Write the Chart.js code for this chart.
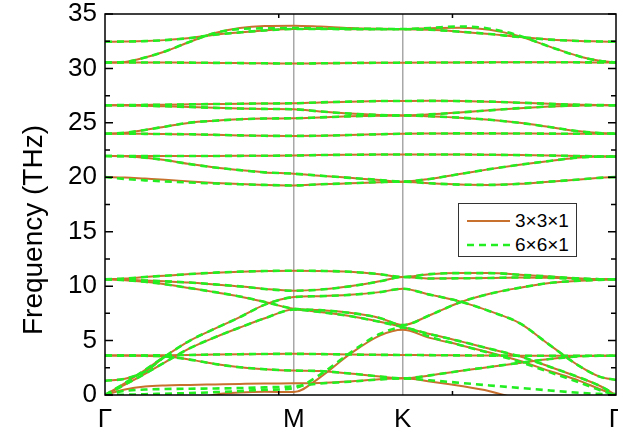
<!DOCTYPE html>
<html>
<head>
<meta charset="utf-8">
<script src="https://cdn.jsdelivr.net/npm/chart.js@4.4.1/dist/chart.umd.min.js"></script>
<style>
  html, body { margin: 0; padding: 0; background: #fff; }
  #wrap { position: relative; width: 618px; height: 441px; overflow: hidden; }
  #legend { position: absolute; left: 458px; top: 203px; width: 119px; height: 54px; border: 1px solid #333;
            background: #fff; box-sizing: border-box; font-family: Arial, "Liberation Sans", sans-serif; font-size: 19px; color: #000; }
  #legend .row { position: absolute; left: 8px; height: 24px; display: flex; align-items: center; }
  #legend svg { margin-right: 5px; }
  #ytitle { position: absolute; left: -97px; top: 213px; width: 260px; height: 34px; line-height: 34px; text-align: center;
            font-family: Arial, "Liberation Sans", sans-serif; font-size: 28px; color: #000; transform: rotate(-90deg); }
</style>
</head>
<body>
<div id="wrap">
  <canvas id="bands" width="618" height="441"></canvas>
  <div id="ytitle">Frequency (THz)</div>
  <div id="legend">
    <div class="row" style="top:5px">
      <svg width="43" height="6"><line x1="0" y1="3" x2="43" y2="3" stroke="#C8702E" stroke-width="2"/></svg>3×3×1
    </div>
    <div class="row" style="top:29px">
      <svg width="43" height="6"><line x1="0" y1="3" x2="43" y2="3" stroke="#22EE22" stroke-width="2.6" stroke-dasharray="7 5"/></svg>6×6×1
    </div>
  </div>
</div>
<script>
// path Γ-M-K-Γ, normalised distance along the path
const kDist = [0, 0.0391, 0.0782, 0.1173, 0.1662, 0.2151, 0.2639, 0.3128, 0.3695,
               0.4203, 0.4790, 0.5376, 0.5826,
               0.6354, 0.6940, 0.7527, 0.8113, 0.8700, 0.9286, 0.9677, 1.0];
const kTicks = [0, 0.3695, 0.5826, 1.0];
const kLabels = ['Γ', 'M', 'K', 'Γ'];
const xMinorTicks = [0.34, 0.68];
const yMajor = [0, 5, 10, 15, 20, 25, 30, 35];
const yMinor = [2.5, 7.5, 12.5, 17.5, 22.5, 27.5, 32.5];

// 3x3x1 bands (THz)      Γ ........................................... M | M ............ K | K ................................................ Γ
const h1 = [32.45, 32.47, 32.51, 32.6, 32.79, 33.1, 33.31, 33.49, 33.62, 33.62, 33.61, 33.6, 33.6, 33.55, 33.38, 33.16, 32.88, 32.65, 32.52, 32.48, 32.45];
const h2 = [30.55, 30.6, 31.0, 31.56, 32.45, 33.25, 33.71, 33.9, 33.93, 33.85, 33.72, 33.65, 33.62, 33.7, 33.74, 33.55, 32.95, 32.0, 31.1, 30.7, 30.55];
const h3 = [30.55, 30.55, 30.55, 30.54, 30.53, 30.51, 30.49, 30.47, 30.45, 30.47, 30.5, 30.52, 30.53, 30.54, 30.55, 30.56, 30.57, 30.57, 30.56, 30.55, 30.55];
const m1 = [26.62, 26.63, 26.65, 26.67, 26.7, 26.73, 26.76, 26.78, 26.8, 26.88, 26.95, 27.0, 27.01, 27.02, 27.0, 26.95, 26.85, 26.75, 26.66, 26.63, 26.62];
const m2 = [26.62, 26.6, 26.57, 26.52, 26.45, 26.38, 26.32, 26.28, 26.25, 26.05, 25.85, 25.72, 25.68, 25.78, 25.95, 26.15, 26.35, 26.5, 26.6, 26.62, 26.62];
const m3 = [24.0, 24.1, 24.35, 24.65, 25.02, 25.2, 25.33, 25.4, 25.42, 25.5, 25.6, 25.66, 25.68, 25.6, 25.48, 25.28, 25.0, 24.62, 24.22, 24.06, 24.0];
const m4 = [24.0, 24.0, 23.99, 23.97, 23.95, 23.9, 23.85, 23.81, 23.8, 23.82, 23.88, 23.95, 24.0, 24.02, 24.03, 24.03, 24.02, 24.01, 24.0, 24.0, 24.0];
const l1 = [21.95, 21.95, 21.95, 21.95, 21.95, 21.96, 21.97, 21.98, 22.0, 22.04, 22.07, 22.09, 22.1, 22.1, 22.09, 22.07, 22.04, 22.0, 21.95, 21.92, 21.9];
const l2 = [21.95, 21.93, 21.8, 21.58, 21.21, 20.9, 20.66, 20.45, 20.33, 20.15, 19.95, 19.75, 19.6, 19.85, 20.3, 20.75, 21.15, 21.5, 21.82, 21.9, 21.9];
const l3 = [20.02, 19.98, 19.88, 19.78, 19.62, 19.48, 19.38, 19.3, 19.25, 19.35, 19.45, 19.55, 19.6, 19.45, 19.33, 19.3, 19.4, 19.6, 19.8, 19.95, 20.02];
const t1 = [10.63, 10.7, 10.84, 10.96, 11.11, 11.24, 11.33, 11.39, 11.42, 11.4, 11.32, 11.1, 10.84, 11.1, 11.2, 11.2, 11.05, 10.88, 10.7, 10.64, 10.63];
const t2 = [10.63, 10.6, 10.52, 10.44, 10.33, 10.16, 9.98, 9.74, 9.58, 9.68, 9.98, 10.44, 10.84, 10.7, 10.72, 10.75, 10.8, 10.76, 10.68, 10.64, 10.63];
const t3 = [10.63, 10.55, 10.4, 10.18, 9.82, 9.45, 9.05, 8.55, 7.92, 7.8, 7.55, 7.08, 6.42, 7.33, 8.5, 9.3, 9.85, 10.29, 10.5, 10.58, 10.63];
const la = [0, 1.1, 2.3, 3.55, 5.0, 6.1, 7.15, 8.3, 9.0, 9.08, 9.2, 9.45, 9.76, 9.22, 8.6, 7.7, 6.6, 4.6, 2.65, 1.69, 1.38];
// optical branch at 1.3 THz that runs into the LA branch
const o1 = [1.3, 1.5, 2.15, 3.55, null, null, null, null, null, null, null, null, null, null, null, null, null, null, null, null, null];
const ta = [0, 0.95, 1.95, 3.0, 4.3, 5.3, 6.2, 7.05, 7.85, 7.62, 7.25, 6.72, 6.25, 5.6, 4.95, 4.25, 3.55, 2.6, 1.6, 0.85, 0];
const a2 = [-1.6, -1.4, -1.15, -0.85, -0.55, 0.03, 0.22, 0.29, 0.27, 1.6, 3.75, 5.46, 5.99, 5.25, 4.6, 3.9, 3.15, 2.2, 1.3, 0.55, 0];
const a1 = [0, 0.5, 0.78, 0.88, 0.92, 0.97, 1.02, 1.06, 1.07, 1.1, 1.25, 1.45, 1.53, 1.25, 0.85, 0.35, -0.4, -1.0, -1.4, -1.6, -1.7];
const o2 = [3.62, 3.62, 3.6, 3.55, 3.25, 2.85, 2.55, 2.37, 2.24, 2.2, 1.98, 1.7, 1.53, 1.8, 2.2, 2.58, 2.95, 3.3, 3.55, 3.6, 3.6];
const o3 = [3.62, 3.62, 3.63, 3.65, 3.68, 3.72, 3.75, 3.77, 3.78, 3.76, 3.72, 3.69, 3.68, 3.66, 3.64, 3.62, 3.61, 3.6, 3.6, 3.6, 3.6];

// 6x6x1 bands that differ from 3x3x1
const h2b = [30.55, 30.6, 31.0, 31.56, 32.45, 33.25, 33.62, 33.68, 33.7, 33.68, 33.65, 33.63, 33.62, 33.72, 33.85, 33.65, 33.0, 32.0, 31.1, 30.7, 30.55];
const l3b = [20.02, 19.85, 19.72, 19.62, 19.52, 19.43, 19.36, 19.3, 19.25, 19.35, 19.45, 19.55, 19.6, 19.45, 19.33, 19.3, 19.4, 19.6, 19.8, 19.95, 20.02];
const a1b = [0, 0.38, 0.5, 0.55, 0.58, 0.6, 0.64, 0.7, 0.8, 1.05, 1.22, 1.43, 1.53, 1.35, 1.12, 0.88, 0.65, 0.42, 0.2, 0.1, 0];
const a2b = [0, 0.03, 0.07, 0.12, 0.18, 0.26, 0.36, 0.48, 0.62, 1.85, 3.85, 5.6, 6.2, 5.35, 4.6, 3.85, 3.05, 2.1, 1.15, 0.45, 0];

const bands331 = [h1, h2, h3, m1, m2, m3, m4, l1, l2, l3, t1, t2, t3, la, o1, ta, a2, a1, o2, o3];
const bands661 = [h1, h2b, h3, m1, m2, m3, m4, l1, l2, l3b, t1, t2, t3, la, o1, ta, a2b, a1b, o2, o3];

const orange = '#C8702E';
const green = '#22EE22';
const fontFam = 'Arial, "Liberation Sans", sans-serif';

function toPoints(band) {
  return kDist.map((k, i) => ({ x: k, y: band[i] }));
}

const datasets = [];
bands661.forEach(b => datasets.push({
  label: '6×6×1', data: toPoints(b), borderColor: green, borderWidth: 2.6, borderDash: [7, 5], order: 0
}));
bands331.forEach(b => datasets.push({
  label: '3×3×1', data: toPoints(b), borderColor: orange, borderWidth: 2, order: 1
}));

// box round the plot plus inward ticks
const frameTicks = {
  id: 'frameTicks',
  afterDraw(chart) {
    const { ctx, chartArea: a, scales: { x, y } } = chart;
    ctx.save();
    ctx.strokeStyle = '#000';
    ctx.lineWidth = 1.5;
    ctx.strokeRect(a.left, a.top, a.right - a.left, a.bottom - a.top);
    ctx.beginPath();
    yMajor.forEach(v => {
      const py = y.getPixelForValue(v);
      ctx.moveTo(a.left, py); ctx.lineTo(a.left + 8, py);
      ctx.moveTo(a.right, py); ctx.lineTo(a.right - 8, py);
    });
    yMinor.forEach(v => {
      const py = y.getPixelForValue(v);
      ctx.moveTo(a.left, py); ctx.lineTo(a.left + 5, py);
      ctx.moveTo(a.right, py); ctx.lineTo(a.right - 5, py);
    });
    xMinorTicks.forEach(v => {
      const px = x.getPixelForValue(v);
      ctx.moveTo(px, a.top); ctx.lineTo(px, a.top + 4);
      ctx.moveTo(px, a.bottom); ctx.lineTo(px, a.bottom - 4);
    });
    ctx.stroke();
    ctx.restore();
  }
};

new Chart(document.getElementById('bands').getContext('2d'), {
  type: 'line',
  data: { datasets: datasets },
  options: {
    responsive: false,
    animation: false,
    layout: { padding: { top: 14, right: 2, left: 0, bottom: 0 } },
    elements: {
      point: { radius: 0 },
      line: { cubicInterpolationMode: 'monotone', fill: false }
    },
    plugins: { legend: { display: false }, tooltip: { enabled: false } },
    scales: {
      x: {
        type: 'linear', min: 0, max: 1,
        afterBuildTicks: s => { s.ticks = kTicks.map(v => ({ value: v })); },
        afterFit: s => { s.height = 46; s.paddingLeft = 0; s.paddingRight = 0; },
        ticks: {
          autoSkip: false, maxRotation: 0, padding: 9, color: '#000',
          font: { family: fontFam, size: 26 },
          callback: (v, i) => kLabels[i]
        },
        grid: {
          drawTicks: false, lineWidth: 1.5,
          color: c => (c.index === 1 || c.index === 2) ? '#a8a8a8' : 'rgba(0,0,0,0)'
        },
        border: { display: false }
      },
      y: {
        min: 0, max: 35,
        afterBuildTicks: s => { s.ticks = yMajor.map(v => ({ value: v })); },
        afterFit: s => { s.width = 105; s.paddingTop = 0; s.paddingBottom = 0; },
        ticks: { padding: 8, color: '#000', font: { family: fontFam, size: 26 } },
        grid: { display: false, drawTicks: false },
        border: { display: false }
      }
    }
  },
  plugins: [frameTicks]
});
</script>
</body>
</html>
